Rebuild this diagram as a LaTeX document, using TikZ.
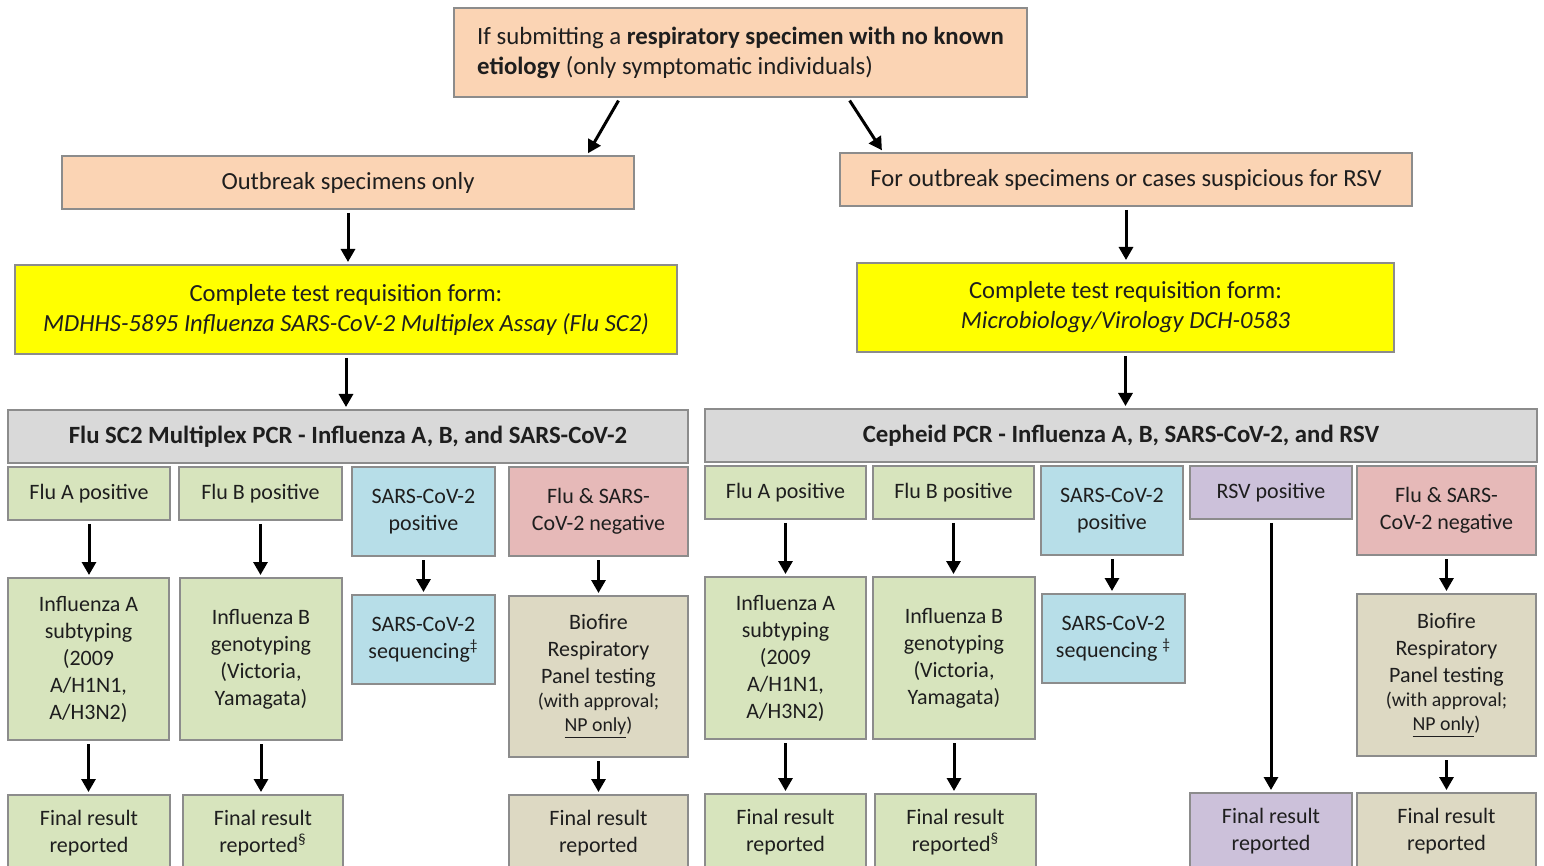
\documentclass[tikz,border=0pt]{standalone}
\usepackage{fontspec}
\setmainfont{Carlito}
\usetikzlibrary{arrows.meta,calc}
\definecolor{peach}{HTML}{FBD4B4}
\definecolor{formyellow}{HTML}{FFFF00}
\definecolor{pcrgray}{HTML}{D9D9D9}
\definecolor{flugreen}{HTML}{D7E4BD}
\definecolor{covblue}{HTML}{B7DEE8}
\definecolor{negpink}{HTML}{E6B9B8}
\definecolor{biotan}{HTML}{DDD9C3}
\definecolor{rsvpurple}{HTML}{CCC1DA}
\definecolor{edgegray}{HTML}{8C8C8C}
\definecolor{inkgray}{HTML}{1E1E1E}
\newcommand{\smalltxt}[1]{{\fontsize{9.9}{12}\selectfont #1}}
\begin{document}
\begin{tikzpicture}
[x=0.5pt,y=-0.5pt,
  boxdecorate/.style={shape=rectangle,draw=edgegray,line width=1pt,inner sep=0pt,text=inkgray,align=center},%
  toptext/.style={font=\fontsize{12.4}{15}\selectfont,align=left},%
  bigtext/.style={font=\fontsize{12.3}{15}\selectfont},%
  headtext/.style={font=\fontsize{12.4}{14}\selectfont\bfseries},%
  midtext/.style={font=\fontsize{11}{13.5}\selectfont},%
  arrowdecorate/.style={-{Triangle[length=6.5pt,width=7pt]},line width=1.5pt,shorten <=1.5pt,shorten >=1pt}]
\useasboundingbox (0,0) rectangle (1544,866);
%% boxes
\foreach \nodename/\xa/\ya/\xb/\yb/\boxcolor/\fontdecorate/\nodetext in {
  top/454/8/1027/97/peach/toptext/{If submitting a \textbf{respiratory specimen with no known}\\\textbf{etiology} (only symptomatic individuals)},
  outbreak/62/156/634/209/peach/bigtext/{Outbreak specimens only},
  rsvcase/840/153/1412/206/peach/bigtext/{For outbreak specimens or cases suspicious for RSV},
  lform/15/265/677/354/formyellow/bigtext/{Complete test requisition form:\\\itshape MDHHS-5895 Influenza SARS-CoV-2 Multiplex Assay (Flu SC2)},
  rform/857/263/1394/352/formyellow/bigtext/{Complete test requisition form:\\\itshape Microbiology/Virology DCH-0583},
  lpcr/8/410/688/463/pcrgray/headtext/{Flu SC2 Multiplex PCR - Influenza A, B, and SARS-CoV-2},
  rpcr/705/409/1537/462/pcrgray/headtext/{Cepheid PCR - Influenza A, B, SARS-CoV-2, and RSV},
  lfluA/8/467/170/520/flugreen/midtext/{Flu A positive},
  lfluB/179/467/342/520/flugreen/midtext/{Flu B positive},
  lsc2/352/467/495/556/covblue/midtext/{SARS-CoV-2\\positive},
  lneg/509/467/688/556/negpink/midtext/{Flu \& SARS-\\CoV-2 negative},
  lsubA/8/578/169/740/flugreen/midtext/{Influenza A\\subtyping\\(2009\\A/H1N1,\\A/H3N2)},
  lgenoB/180/578/342/740/flugreen/midtext/{Influenza B\\genotyping\\(Victoria,\\Yamagata)},
  lseq/352/595/495/684/covblue/midtext/{SARS-CoV-2\\sequencing\textsuperscript{‡}},
  lbio/509/596/688/757/biotan/midtext/{Biofire\\Respiratory\\Panel testing\\[-1.5pt]\smalltxt{(with approval;}\\[-1.5pt]\smalltxt{\underline{NP only})}},
  lfinA/8/795/170/872/flugreen/midtext/{Final result\\reported},
  lfinB/183/795/343/872/flugreen/midtext/{Final result\\reported\textsuperscript{§}},
  lfinbio/509/795/688/872/biotan/midtext/{Final result\\reported},
  rfluA/705/466/866/519/flugreen/midtext/{Flu A positive},
  rfluB/873/466/1034/519/flugreen/midtext/{Flu B positive},
  rsc2/1041/466/1183/555/covblue/midtext/{SARS-CoV-2\\positive},
  rrsv/1190/466/1352/519/rsvpurple/midtext/{RSV positive},
  rneg/1357/466/1536/555/negpink/midtext/{Flu \& SARS-\\CoV-2 negative},
  rsubA/705/577/866/739/flugreen/midtext/{Influenza A\\subtyping\\(2009\\A/H1N1,\\A/H3N2)},
  rgenoB/873/577/1035/739/flugreen/midtext/{Influenza B\\genotyping\\(Victoria,\\Yamagata)},
  rseq/1042/594/1185/683/covblue/midtext/{SARS-CoV-2\\sequencing \textsuperscript{‡}},
  rbio/1357/594/1536/756/biotan/midtext/{Biofire\\Respiratory\\Panel testing\\[-1.5pt]\smalltxt{(with approval;}\\[-1.5pt]\smalltxt{\underline{NP only})}},
  rfinA/705/794/866/871/flugreen/midtext/{Final result\\reported},
  rfinB/875/794/1036/871/flugreen/midtext/{Final result\\reported\textsuperscript{§}},
  rfinrsv/1190/793/1352/870/rsvpurple/midtext/{Final result\\reported},
  rfinbio/1357/793/1536/870/biotan/midtext/{Final result\\reported}} {
  \node (\nodename) at ({(\xa+\xb)/2},{(\ya+\yb)/2}) [boxdecorate,fill=\boxcolor,\fontdecorate,
    minimum width={(\xb-\xa)*0.5pt},minimum height={(\yb-\ya)*0.5pt}] {\nodetext};
}
%% arrows
\draw[arrowdecorate] ($(top.south west)+(167,0)$) -- ($(outbreak.north)+(239,0)$);
\draw[arrowdecorate] ($(top.south west)+(395,0)$) -- ($(rsvcase.north)+(-243,0)$);
\path
\foreach \startnode/\endnode in {outbreak/lform, lform/lpcr, rsvcase/rform, rform/rpcr,
  lfluA/lsubA, lsubA/lfinA, lfluB/lgenoB, lgenoB/lfinB, lsc2/lseq, lneg/lbio, lbio/lfinbio,
  rfluA/rsubA, rsubA/rfinA, rfluB/rgenoB, rgenoB/rfinB, rsc2/rseq, rrsv/rfinrsv,
  rneg/rbio, rbio/rfinbio} {
  (\startnode.south) edge[arrowdecorate] (\startnode.south |- \endnode.north)
};
\end{tikzpicture}
\end{document}
